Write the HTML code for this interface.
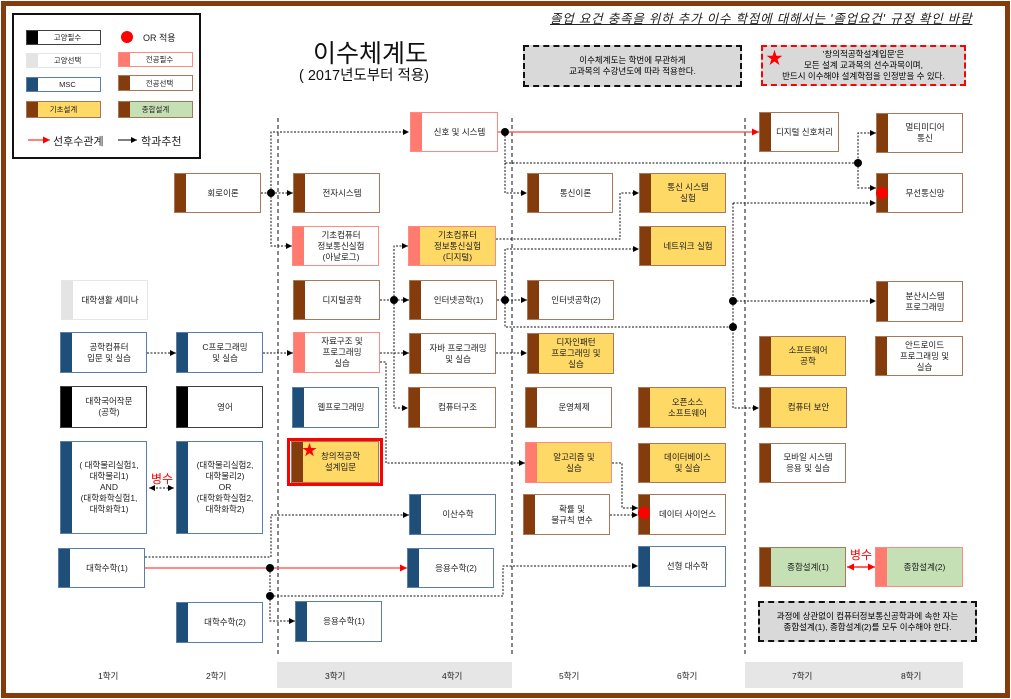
<!DOCTYPE html>
<html><head><meta charset="utf-8">
<style>
*{box-sizing:border-box;margin:0;padding:0}
body{width:1011px;height:699px;position:relative;background:#fff;font-family:"Liberation Sans","Noto Sans CJK KR",sans-serif;overflow:hidden}
.frame{position:absolute;left:1px;top:1px;width:1009px;height:697px;border:5px solid #843c0c}
.b{position:absolute;border:1.5px solid #a0785a;background:#fff;display:flex;align-items:center;justify-content:center;text-align:center;font-size:8.5px;line-height:11px;padding-left:11px;color:#222}
.b::before{content:"";position:absolute;left:0;top:0;bottom:0;width:11px;background:#843c0c}
.se{border-color:#a8785a}
.se::before{background:#843c0c}
.pr{border-color:#ff8a80}
.pr::before{background:#ff7b70}
.ms{border-color:#5a7fa6}
.ms::before{background:#1f4e79}
.gr{border-color:#404040}
.gr::before{background:#000}
.gs{border-color:#e6e6e6}
.gs::before{background:#e4e4e4}
.y{background:#ffd966}
.g{background:#c5e0b4}
.t{position:absolute;font-size:8.5px;color:#222;white-space:nowrap}
.sem{position:absolute;top:670px;font-size:8.5px;color:#222}
</style></head><body>
<div class="frame"></div>

<!-- legend -->
<div style="position:absolute;left:12px;top:13px;width:189px;height:146px;border:2px solid #111"></div>
<div class="b gr" style="left:26px;top:30px;width:75px;height:15px;padding-left:8px;font-size:7.5px">고양필수</div>
<div class="b gs" style="left:26px;top:53px;width:75px;height:15px;padding-left:8px;font-size:7.5px">고양선택</div>
<div class="b ms" style="left:26px;top:77px;width:75px;height:15px;padding-left:8px;font-size:7.5px">MSC</div>
<div class="b y" style="left:26px;top:101px;width:75px;height:17px;padding-left:0;border-color:#a0785a;font-size:7.5px">기초설계</div>
<div style="position:absolute;left:121px;top:31px;width:12px;height:12px;border-radius:50%;background:#f00"></div>
<div class="t" style="left:143px;top:31px;font-size:9px">OR 적용</div>
<div class="b pr" style="left:118px;top:52px;width:75px;height:15px;padding-left:8px;font-size:7.5px">전공필수</div>
<div class="b se" style="left:118px;top:75px;width:75px;height:16px;padding-left:8px;font-size:7.5px">전공선택</div>
<div class="b g" style="left:118px;top:101px;width:75px;height:17px;padding-left:0;font-size:7.5px">종합설계</div>
<div class="t" style="left:53px;top:133px;font-size:11px">선후수관계</div>
<div class="t" style="left:141px;top:133px;font-size:11px">학과추천</div>

<div class="t" style="left:313px;top:34px;font-size:25px;color:#111">이수체계도</div>
<div class="t" style="left:299px;top:64px;font-size:14.5px;color:#111">( 2017년도부터 적용)</div>

<div class="t" style="left:550px;top:8px;font-size:12.5px;letter-spacing:0.8px;font-style:italic;text-decoration:underline;color:#222">졸업 요건 충족을 위하 추가 이수 학점에 대해서는 '졸업요건' 규정 확인 바람</div>

<div style="position:absolute;left:523px;top:45px;width:219px;height:42px;background:#d9d9d9;border:2px dashed #111;display:flex;align-items:center;justify-content:center;text-align:center;font-size:8.5px;line-height:11px">이수체계도는 학번에 무관하게<br>교과목의 수강년도에 따라 적용한다.</div>
<div style="position:absolute;left:761px;top:45px;width:205px;height:41px;background:#d9d9d9;border:2px dashed #f00;display:flex;align-items:center;justify-content:center;text-align:center;font-size:8.5px;line-height:11px">'창의적공학설계입문'은<br>모든 설계 교과목의 선수과목이며,<br>반드시 이수해야 설계학점을 인정받을 수 있다.</div>
<div class="t" style="left:766px;top:44px;font-size:17px;color:#f00">★</div>

<!-- semester bands -->
<div style="position:absolute;left:277px;top:662px;width:235px;height:26px;background:#e6e6e6"></div>
<div style="position:absolute;left:745px;top:662px;width:218px;height:26px;background:#e6e6e6"></div>
<div class="sem" style="left:98px">1학기</div>
<div class="sem" style="left:206px">2학기</div>
<div class="sem" style="left:325px">3학기</div>
<div class="sem" style="left:442px">4학기</div>
<div class="sem" style="left:559px">5학기</div>
<div class="sem" style="left:677px">6학기</div>
<div class="sem" style="left:792px">7학기</div>
<div class="sem" style="left:901px">8학기</div>

<svg width="1011" height="699" style="position:absolute;left:0;top:0">
<defs>
<marker id="a" markerWidth="6" markerHeight="6" refX="6" refY="3" orient="auto" markerUnits="userSpaceOnUse"><path d="M0,0L6,3L0,6z" fill="#000"/></marker>
<marker id="ar" markerWidth="7" markerHeight="7" refX="7" refY="3.5" orient="auto" markerUnits="userSpaceOnUse"><path d="M0,0L7,3.5L0,7z" fill="#f00"/></marker>
<marker id="as" markerWidth="6" markerHeight="6" refX="0" refY="3" orient="auto" markerUnits="userSpaceOnUse"><path d="M6,0L0,3L6,6z" fill="#000"/></marker>
<marker id="ars" markerWidth="7" markerHeight="7" refX="0" refY="3.5" orient="auto" markerUnits="userSpaceOnUse"><path d="M7,0L0,3.5L7,7z" fill="#f00"/></marker>
</defs>
<g stroke="#111" stroke-width="1" stroke-dasharray="4,3" fill="none">
<line x1="278" y1="118" x2="278" y2="655"/>
<line x1="512" y1="118" x2="512" y2="655"/>
<line x1="745" y1="118" x2="745" y2="655"/>
</g>
<line x1="28" y1="140" x2="50" y2="140" stroke="#f00" stroke-width="1" marker-end="url(#ar)"/>
<line x1="118" y1="140" x2="137" y2="140" stroke="#000" stroke-width="1" marker-end="url(#a)"/>
<!-- red -->
<g stroke="#f44" stroke-width="1.2" fill="none">
<line x1="498" y1="132" x2="759" y2="132" marker-end="url(#ar)"/>
<line x1="145" y1="568" x2="407" y2="568" marker-end="url(#ar)"/>
<line x1="847" y1="567" x2="875" y2="567" stroke="#f00" marker-end="url(#ar)" marker-start="url(#ars)"/>
</g>
<g stroke="#111" stroke-width="1" stroke-dasharray="2,1.5" fill="none">
<path d="M505,132V163H858V133H876" marker-end="url(#a)"/>
<path d="M858,163V188H876" marker-end="url(#a)"/>
<path d="M505,163V193H527" marker-end="url(#a)"/>
<path d="M261,193H293" marker-end="url(#a)"/>
<path d="M271,193V132H409" marker-end="url(#a)"/>
<path d="M271,193V246H292" marker-end="url(#a)"/>
<path d="M380,300H409" marker-end="url(#a)"/>
<path d="M394,300V246H408" marker-end="url(#a)"/>
<path d="M496,239H620V193H639" marker-end="url(#a)"/>
<path d="M497,300H527" marker-end="url(#a)"/>
<path d="M505,300V249H639" marker-end="url(#a)"/>
<path d="M505,300V327H733"/>
<path d="M733,203H876" marker-end="url(#a)"/>
<path d="M733,203V408H759" marker-end="url(#a)"/>
<path d="M733,301H876" marker-end="url(#a)"/>
<path d="M147,353H176" marker-end="url(#a)"/>
<path d="M263,353H293" marker-end="url(#a)"/>
<path d="M380,353H409" marker-end="url(#a)"/>
<path d="M394,300V408H408" marker-end="url(#a)"/>
<path d="M380,362H386V463H525" marker-end="url(#a)"/>
<path d="M496,353H527" marker-end="url(#a)"/>
<path d="M612,463H622V508H638" marker-end="url(#a)"/>
<path d="M610,515H638" marker-end="url(#a)"/>
<path d="M149,488H174" marker-end="url(#a)" marker-start="url(#as)"/>
<path d="M145,557H271V515H409" marker-end="url(#a)"/>
<path d="M270,568V621H295" marker-end="url(#a)"/>
<path d="M270,596H503V566H638" marker-end="url(#a)"/>
</g>
<g fill="#000">
<circle cx="505" cy="132" r="4"/><circle cx="858" cy="163" r="4"/>
<circle cx="271" cy="193" r="4"/><circle cx="394" cy="300" r="4"/>
<circle cx="505" cy="300" r="4"/><circle cx="733" cy="301" r="4"/><circle cx="733" cy="327" r="4"/>
<circle cx="270" cy="568" r="4"/><circle cx="270" cy="596" r="4"/>
</g>
</svg>

<div style="position:absolute;left:758px;top:601px;width:219px;height:41px;background:#d9d9d9;border:2px dashed #111;display:flex;align-items:center;justify-content:center;text-align:center;font-size:8.5px;line-height:11px">과정에 상관없이 컴퓨터정보통신공학과에 속한 자는<br>종합설계(1), 종합설계(2)를 모두 이수해야 한다.</div>

<!-- boxes -->
<div class="b pr" style="left:410px;top:112px;width:88px;height:40px">신호 및 시스템</div>
<div class="b se" style="left:174px;top:173px;width:87px;height:40px">회로이론</div>
<div class="b se" style="left:293px;top:173px;width:87px;height:40px">전자시스템</div>
<div class="b pr" style="left:292px;top:226px;width:87px;height:40px">기초컴퓨터<br>정보통신실험<br>(아날로그)</div>
<div class="b pr y" style="left:408px;top:226px;width:88px;height:40px">기초컴퓨터<br>정보통신실험<br>(디지털)</div>
<div class="b gs" style="left:61px;top:280px;width:87px;height:40px">대학생활 세미나</div>
<div class="b se" style="left:293px;top:280px;width:87px;height:40px">디지털공학</div>
<div class="b se" style="left:409px;top:280px;width:88px;height:40px">인터넷공학(1)</div>
<div class="b ms" style="left:60px;top:332px;width:87px;height:41px">공학컴퓨터<br>입문 및 실습</div>
<div class="b ms" style="left:176px;top:332px;width:87px;height:41px">C프로그래밍<br>및 실습</div>
<div class="b pr" style="left:293px;top:332px;width:87px;height:41px">자료구조 및<br>프로그래밍<br>실습</div>
<div class="b se" style="left:409px;top:333px;width:87px;height:41px">자바 프로그래밍<br>및 실습</div>
<div class="b gr" style="left:60px;top:386px;width:87px;height:42px">대학국어작문<br>(공학)</div>
<div class="b gr" style="left:176px;top:386px;width:87px;height:42px">영어</div>
<div class="b ms" style="left:292px;top:387px;width:87px;height:41px">웹프로그래밍</div>
<div class="b se" style="left:408px;top:387px;width:88px;height:41px">컴퓨터구조</div>
<div style="position:absolute;left:287px;top:438px;width:96px;height:48px;border:3px solid #f00"></div>
<div class="b se y" style="left:291px;top:441px;width:88px;height:42px">창의적공학<br>설계입문</div>
<div class="t" style="left:302px;top:439px;font-size:15px;color:#f00">★</div>
<div class="b ms" style="left:60px;top:441px;width:87px;height:93px">( 대학물리실험1,<br>대학물리1)<br>AND<br>(대학화학실험1,<br>대학화학1)</div>
<div class="b ms" style="left:176px;top:441px;width:87px;height:93px">(대학물리실험2,<br>대학물리2)<br>OR<br>(대학화학실험2,<br>대학화학2)</div>
<div class="t" style="left:151px;top:470px;font-size:12px;color:#f00">병수</div>
<div class="b ms" style="left:409px;top:494px;width:87px;height:41px">이산수학</div>
<div class="b ms" style="left:58px;top:548px;width:87px;height:40px">대학수학(1)</div>
<div class="b ms" style="left:407px;top:548px;width:87px;height:40px">응용수학(2)</div>
<div class="b ms" style="left:176px;top:602px;width:87px;height:41px">대학수학(2)</div>
<div class="b ms" style="left:295px;top:601px;width:87px;height:41px">응용수학(1)</div>

<div class="b se" style="left:759px;top:112px;width:80px;height:40px">디지털 신호처리</div>
<div class="b se" style="left:876px;top:113px;width:87px;height:40px">멀티미디어<br>통신</div>
<div class="b se" style="left:527px;top:173px;width:86px;height:40px">통신이론</div>
<div class="b se y" style="left:639px;top:173px;width:87px;height:40px">통신 시스템<br>실험</div>
<div class="b se" style="left:876px;top:173px;width:87px;height:40px">무선통신망</div>
<div style="position:absolute;left:876px;top:187px;width:12px;height:12px;border-radius:50%;background:#f00"></div>
<div class="b se y" style="left:639px;top:226px;width:87px;height:40px">네트워크 실험</div>
<div class="b se" style="left:527px;top:280px;width:87px;height:40px">인터넷공학(2)</div>
<div class="b se" style="left:876px;top:281px;width:87px;height:41px">분산시스템<br>프로그래밍</div>
<div class="b se y" style="left:527px;top:333px;width:87px;height:41px">디자인패턴<br>프로그래밍 및<br>실습</div>
<div class="b se y" style="left:759px;top:336px;width:87px;height:40px">소프트웨어<br>공학</div>
<div class="b se" style="left:875px;top:336px;width:88px;height:40px">안드로이드<br>프로그래밍 및<br>실습</div>
<div class="b se" style="left:525px;top:387px;width:87px;height:41px">운영체제</div>
<div class="b se y" style="left:638px;top:387px;width:88px;height:41px">오픈소스<br>소프트웨어</div>
<div class="b se y" style="left:759px;top:387px;width:88px;height:41px">컴퓨터 보안</div>
<div class="b pr y" style="left:525px;top:442px;width:87px;height:41px">알고리즘 및<br>실습</div>
<div class="b se y" style="left:638px;top:443px;width:88px;height:40px">데이터베이스<br>및 실습</div>
<div class="b se" style="left:759px;top:443px;width:87px;height:40px">모바일 시스템<br>응용 및 실습</div>
<div class="b se" style="left:523px;top:494px;width:87px;height:41px;">확률 및<br>불규칙 변수</div>
<div class="b se" style="left:638px;top:494px;width:88px;height:41px">데이터 사이언스</div>
<div style="position:absolute;left:638px;top:507px;width:12px;height:12px;border-radius:50%;background:#f00"></div>
<div class="b ms" style="left:638px;top:546px;width:88px;height:41px">선형 대수학</div>
<div class="b se g" style="left:759px;top:547px;width:87px;height:40px">종합설계(1)</div>
<div class="b pr g" style="left:875px;top:547px;width:88px;height:40px">종합설계(2)</div>
<div class="t" style="left:850px;top:546px;font-size:12px;color:#f00">병수</div>
</body></html>
